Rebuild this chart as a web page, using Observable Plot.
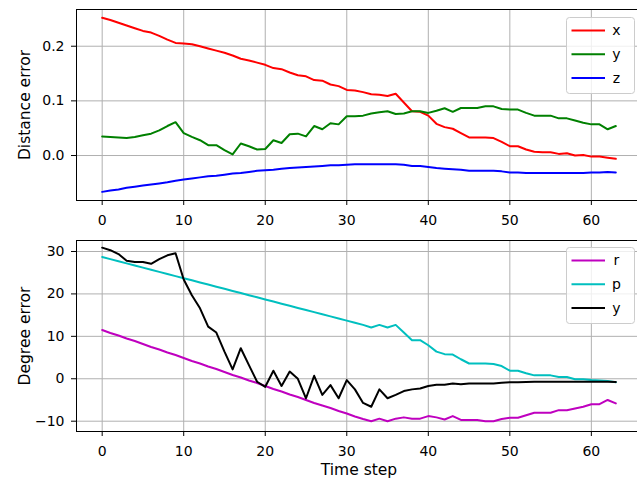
<!DOCTYPE html>
<html><head><meta charset="utf-8">
<script src="https://cdn.jsdelivr.net/npm/d3@7"></script>
<script src="https://cdn.jsdelivr.net/npm/@observablehq/plot@0.6"></script>
<style>
html,body{margin:0;padding:0;background:#fff;overflow:hidden}
#chart{width:637px;height:483px;position:relative;overflow:hidden}
svg{display:block}
</style></head><body><div id="chart"></div>
<script>
const steps = d3.range(64);
const xTicks = [0, 10, 20, 30, 40, 50, 60];

const distSeries = ["x", "y", "z"];
const distColors = ["#ff0000", "#008000", "#0000ff"];
const distTicks = [0.0, 0.1, 0.2];
const distX = [0.252,0.248,0.243,0.238,0.233,0.228,0.225,0.219,0.212,0.206,
  0.205,0.2035,0.200,0.196,0.192,0.188,0.183,0.177,0.174,0.170,
  0.166,0.160,0.158,0.152,0.147,0.145,0.138,0.137,0.130,0.127,
  0.120,0.119,0.116,0.112,0.111,0.109,0.113,0.097,0.081,0.080,
  0.073,0.058,0.052,0.049,0.041,0.033,0.033,0.033,0.032,0.025,
  0.017,0.017,0.011,0.007,0.006,0.006,0.003,0.004,0.000,0.001,
  -0.002,-0.002,-0.004,-0.006];
const distY = [0.035,0.034,0.033,0.032,0.034,0.037,0.040,0.046,0.054,0.061,
  0.041,0.034,0.028,0.019,0.019,0.010,0.002,0.022,0.017,0.011,
  0.012,0.028,0.023,0.039,0.040,0.035,0.054,0.048,0.059,0.057,
  0.072,0.072,0.073,0.077,0.079,0.081,0.076,0.077,0.081,0.081,
  0.078,0.082,0.0865,0.080,0.087,0.087,0.087,0.090,0.090,0.085,
  0.084,0.084,0.078,0.073,0.073,0.073,0.068,0.068,0.064,0.060,
  0.057,0.057,0.048,0.054];
const distZ = [-0.0665,-0.064,-0.062,-0.059,-0.057,-0.055,-0.053,-0.051,-0.049,-0.046,
  -0.044,-0.042,-0.040,-0.038,-0.037,-0.035,-0.033,-0.032,-0.030,-0.028,
  -0.027,-0.026,-0.024,-0.023,-0.022,-0.021,-0.020,-0.019,-0.018,-0.018,
  -0.017,-0.016,-0.016,-0.016,-0.016,-0.016,-0.016,-0.017,-0.019,-0.019,
  -0.021,-0.023,-0.024,-0.025,-0.026,-0.028,-0.028,-0.028,-0.028,-0.029,
  -0.031,-0.031,-0.032,-0.032,-0.032,-0.032,-0.032,-0.032,-0.032,-0.032,
  -0.031,-0.031,-0.030,-0.031];

const degSeries = ["r", "p", "y"];
const degColors = ["#bf00bf", "#00bfbf", "#000000"];
const degTicks = [-10, 0, 10, 20, 30];
const degR = [11.5,10.8,10.2,9.5,8.9,8.2,7.5,6.9,6.2,5.6,
  4.9,4.2,3.6,2.9,2.3,1.6,0.9,0.3,-0.4,-1.0,
  -1.7,-2.4,-3.0,-3.7,-4.3,-5.0,-5.7,-6.3,-6.9,-7.6,
  -8.2,-8.9,-9.5,-10.0,-9.4,-10.0,-9.4,-9.1,-9.4,-9.4,
  -8.8,-9.1,-9.6,-8.8,-9.7,-9.7,-9.7,-10.0,-10.0,-9.5,
  -9.2,-9.2,-8.6,-8.0,-8.0,-8.0,-7.4,-7.4,-7.0,-6.6,
  -6.0,-6.0,-5.0,-5.8];
const degP = [28.7,28.2,27.7,27.2,26.7,26.2,25.7,25.2,24.7,24.2,
  23.7,23.2,22.7,22.2,21.7,21.2,20.7,20.2,19.7,19.2,
  18.7,18.2,17.7,17.2,16.7,16.2,15.7,15.2,14.7,14.2,
  13.7,13.2,12.7,12.1,12.7,12.1,12.7,10.9,9.1,9.1,
  7.9,6.4,5.8,5.7,4.6,3.6,3.6,3.6,3.5,3.0,
  1.9,1.9,1.3,0.8,0.8,0.8,0.4,0.4,-0.1,-0.1,
  -0.3,-0.4,-0.5,-0.8];
const degY = [30.9,30.3,29.4,27.8,27.5,27.5,27.1,28.2,29.1,29.6,
  23.4,19.7,16.6,12.3,10.9,6.4,2.2,7.2,3.2,-0.7,
  -1.9,1.9,-1.7,1.7,0.0,-4.6,0.7,-3.8,-1.5,-4.6,
  -0.3,-2.5,-5.7,-6.6,-2.5,-4.6,-3.8,-2.9,-2.5,-2.3,
  -1.7,-1.4,-1.4,-1.1,-1.3,-1.1,-1.1,-1.1,-1.1,-0.95,
  -0.8,-0.8,-0.75,-0.7,-0.7,-0.7,-0.7,-0.7,-0.7,-0.7,
  -0.7,-0.7,-0.7,-0.75];

function panel({series, colors, values, height, marginTop, marginBottom, yDomain, yTicks, yFormat, ylabel, xlabel}) {
  const data = series.flatMap((s, i) => values[i].map((v, j) => ({step: steps[j], value: v, series: s, k: i})));
  const svg = Plot.plot({
    width: 637, height, marginLeft: 76, marginRight: -4, marginTop, marginBottom,
    style: {fontFamily: "DejaVu Sans", fontSize: "14px", color: "#000", background: "#fff", overflow: "hidden"},
    x: {domain: [-3.15, 66.15]},
    y: {domain: yDomain},
    color: {domain: d3.range(series.length), range: colors},
    marks: [
      Plot.gridX(xTicks, {stroke: "#b0b0b0", strokeOpacity: 1, strokeWidth: 1}),
      Plot.gridY(yTicks, {stroke: "#b0b0b0", strokeOpacity: 1, strokeWidth: 1}),
      Plot.lineY(data, {x: "step", y: "value", z: "k", stroke: "k", strokeWidth: 2}),
      Plot.frame({stroke: "#000", strokeWidth: 1}),
      Plot.axisX(xTicks, {tickSize: 5, tickPadding: 10, label: null, fontSize: 14}),
      Plot.axisY(yTicks, {tickSize: 5, tickPadding: 7, label: null, fontSize: 14, tickFormat: yFormat}),
      Plot.text([ylabel], {frameAnchor: "left", textAnchor: "middle", lineAnchor: "middle", dx: -51, rotate: -90, text: d => d, fontSize: 15.5}),
      xlabel ? Plot.text([xlabel], {frameAnchor: "bottom", textAnchor: "middle", lineAnchor: "middle", dy: 39, text: d => d, fontSize: 15.5}) : null
    ]
  });
  // legend (upper right)
  const g = d3.select(svg).append("g").attr("font-family", "DejaVu Sans").attr("font-size", 14);
  g.append("rect").attr("x", 566.5).attr("y", 17.5).attr("width", 68).attr("height", 76)
    .attr("rx", 3).attr("fill", "#fff").attr("fill-opacity", 0.8).attr("stroke", "#cccccc");
  series.forEach((s, i) => {
    const yy = 30.5 + 23.8 * i;
    g.append("line").attr("x1", 571.5).attr("x2", 605).attr("y1", yy).attr("y2", yy)
      .attr("stroke", colors[i]).attr("stroke-width", 2);
    g.append("text").attr("x", 616.5).attr("y", yy).attr("dy", "0.35em").attr("fill", "#000").text(s);
  });
  return svg;
}

const chart = document.getElementById("chart");
chart.appendChild(panel({
  series: distSeries, colors: distColors, values: [distX, distY, distZ],
  height: 230, marginTop: 9, marginBottom: 30,
  yDomain: [-0.0823, 0.2672], yTicks: distTicks, yFormat: d3.format(".1f"),
  ylabel: "Distance error", xlabel: null
}));
chart.appendChild(panel({
  series: degSeries, colors: degColors, values: [degR, degP, degY],
  height: 253, marginTop: 10, marginBottom: 52,
  yDomain: [-12.43, 32.59], yTicks: degTicks, yFormat: d3.format("d"),
  ylabel: "Degree error", xlabel: "Time step"
}));
</script></body></html>
